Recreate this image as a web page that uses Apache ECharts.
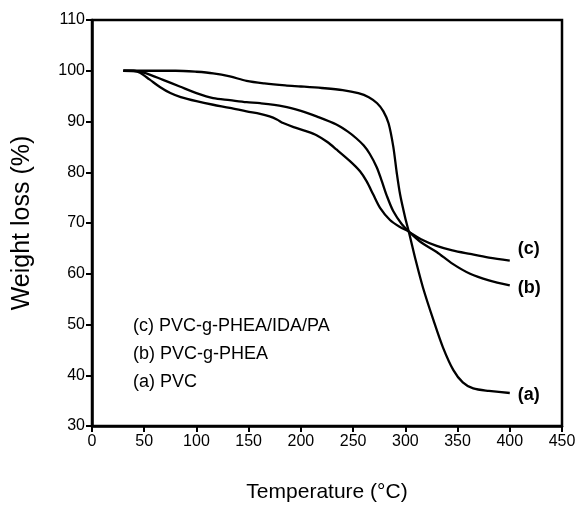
<!DOCTYPE html>
<html>
<head>
<meta charset="utf-8">
<script src="https://cdn.jsdelivr.net/npm/echarts@6/dist/echarts.min.js"></script>
<style>
html,body{margin:0;padding:0;background:#fff;}
#chart{width:579px;height:508px;}
</style>
</head>
<body>
<div id="chart"></div>
<script>
// (a) PVC
const tempA = [30, 43, 60, 80, 100, 116, 132, 148, 165, 185, 200, 220, 240, 255, 265, 273, 279, 284, 288.5, 291.7, 295, 299.7, 303.8, 310, 317, 327, 336, 346, 355, 365, 380, 400];
const wA    = [100, 100, 100, 100, 99.8, 99.5, 98.9, 98.0, 97.5, 97.1, 96.9, 96.6, 96.2, 95.6, 94.8, 93.6, 92.0, 89.6, 85.0, 80.0, 75.6, 71.2, 67.9, 62.6, 57.2, 50.8, 45.5, 41.0, 38.6, 37.4, 36.9, 36.5];
// (b) PVC-g-PHEA
const tempB = [30, 43, 52, 68, 84, 100, 116, 132, 148, 161, 183, 200, 215, 234, 245, 253, 260, 266, 272.6, 277.4, 282.2, 288.5, 296.5, 302.9, 315, 330, 345, 362, 380, 400];
const wB    = [100, 99.9, 99.5, 98.2, 96.9, 95.6, 94.6, 94.2, 93.8, 93.6, 93.0, 92.1, 91.0, 89.4, 88.0, 86.7, 85.3, 83.6, 81.0, 78.3, 75.4, 72.3, 69.8, 68.4, 66.2, 64.3, 62.0, 60.0, 58.7, 57.7];
// (c) PVC-g-PHEA/IDA/PA
const tempC = [30, 40, 46, 55, 65, 75, 85, 100, 116, 132, 148, 161, 170, 177, 183, 193, 205, 215, 225, 234, 247, 256.6, 263, 269.3, 275.8, 285.3, 294.9, 302.6, 315, 330, 345, 362, 380, 400];
const wC    = [100, 100, 99.6, 98.3, 96.8, 95.6, 94.8, 94.0, 93.3, 92.7, 92.0, 91.5, 91.0, 90.4, 89.7, 88.9, 88.1, 87.3, 86.0, 84.5, 82.2, 80.2, 78.2, 75.6, 73.0, 70.6, 69.2, 68.4, 66.8, 65.5, 64.6, 63.9, 63.2, 62.6];

const xTicks = [0, 50, 100, 150, 200, 250, 300, 350, 400, 450];
const yTicks = [30, 40, 50, 60, 70, 80, 90, 100, 110];
const endLabels = ['(a)', '(b)', '(c)'];
const legendLines = ['(c) PVC-g-PHEA/IDA/PA', '(b) PVC-g-PHEA', '(a) PVC'];

const FONT = 'Liberation Sans, Arial, sans-serif';
function pairs(xs, ys){ return xs.map((x,i)=>[x, ys[i]]); }

const chart = echarts.init(document.getElementById('chart'), null, {renderer:'canvas'});
const lineStyle = {color:'#000', width:2.3};
function mkSeries(name, xs, ys, label, off){
  return {
    name, type:'line', data: pairs(xs, ys), smooth:0.3, showSymbol:false, symbol:'none',
    lineStyle, itemStyle:{color:'#000'}, animation:false,
    endLabel:{show:true, formatter: label, color:'#000', fontFamily:FONT, fontWeight:'bold', fontSize:18, distance:8, offset: off}
  };
}
chart.setOption({
  animation:false,
  backgroundColor:'#fff',
  grid:{left:92, right:17, top:20, bottom:80, show:true, borderColor:'#000', borderWidth:2.5, containLabel:false},
  xAxis:{
    type:'value', min:0, max:450, interval:50,
    name:'Temperature (°C)', nameLocation:'middle', nameGap:56,
    nameTextStyle:{color:'#000', fontFamily:FONT, fontSize:21},
    axisLine:{show:true, lineStyle:{color:'#000', width:2.5}},
    axisTick:{show:true, inside:false, length:6, lineStyle:{color:'#000', width:2}},
    axisLabel:{color:'#000', fontFamily:FONT, fontSize:16, margin:8,
      formatter: v => xTicks.includes(v) ? String(v) : ''},
    splitLine:{show:false}
  },
  yAxis:{
    type:'value', min:30, max:110, interval:10,
    name:'Weight loss (%)', nameLocation:'middle', nameGap:57, nameRotate:90,
    nameTextStyle:{color:'#000', fontFamily:FONT, fontSize:25},
    axisLine:{show:true, lineStyle:{color:'#000', width:2.5}},
    axisTick:{show:true, inside:false, length:6, lineStyle:{color:'#000', width:2}},
    axisLabel:{color:'#000', fontFamily:FONT, fontSize:16, margin:7,
      formatter: v => yTicks.includes(v) ? String(v) : ''},
    splitLine:{show:false}
  },
  series:[
    mkSeries('a', tempA, wA, endLabels[0], [0, 2]),
    mkSeries('b', tempB, wB, endLabels[1], [0, 3]),
    mkSeries('c', tempC, wC, endLabels[2], [0, -12])
  ],
  graphic: legendLines.map((t,i)=>({
    type:'text', left:133, top:317 + i*28,
    style:{text:t, fill:'#000', font:'18px ' + FONT}
  }))
});
</script>
</body>
</html>
